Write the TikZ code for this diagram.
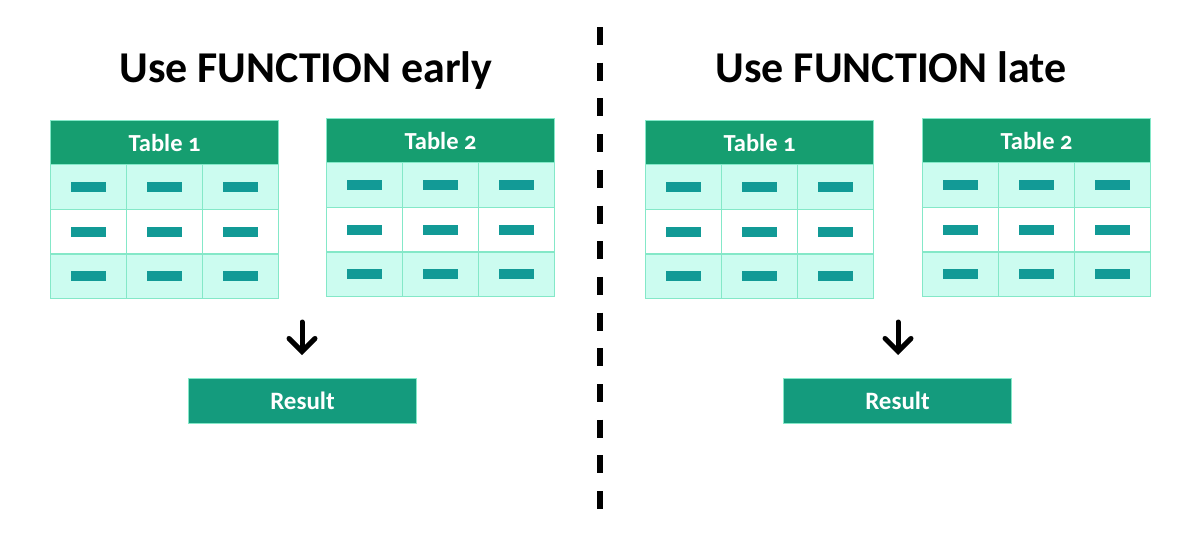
\documentclass[tikz,border=0pt]{standalone}
\usepackage{fontspec}
\setmainfont{Carlito}
\newfontfamily\hdrfont[Numbers=OldStyle]{Carlito}
\usetikzlibrary{arrows.meta}
\definecolor{hdrgreen}{RGB}{22,158,112}
\definecolor{resgreen}{RGB}{20,155,125}
\definecolor{mint}{RGB}{204,252,240}
\definecolor{gridc}{RGB}{132,232,200}
\definecolor{barc}{RGB}{18,154,150}
\tikzset{
  hdrbox/.style={draw=gridc, line width=1.2pt, fill=hdrgreen, text=white, inner sep=0pt,
    minimum width=228pt, minimum height=44pt, font=\hdrfont\fontsize{24.5}{28}\selectfont\bfseries},
  cellbox/.style={draw=gridc, line width=1.2pt, inner sep=0pt, minimum width=76pt, minimum height=44.7pt},
  barbox/.style={fill=barc, inner sep=0pt, minimum width=35pt, minimum height=10pt},
  titletext/.style={font=\fontsize{44}{50}\selectfont\bfseries, inner sep=0pt, anchor=base},
  resbox/.style={draw=gridc, line width=1pt, fill=resgreen, text=white, inner sep=0pt,
    minimum width=228pt, minimum height=45pt, font=\fontsize{25}{28}\selectfont\bfseries},
  downarrow/.style={line width=5pt, line cap=round, -{Straight Barb[length=13pt,width=26pt,line cap=round]}},
  divider/.style={line width=6pt, dash pattern=on 18pt off 17.7pt}
}
\newcommand\mktable[4]{%
  \node[hdrbox, anchor=north west] (#1h) at (#2,#3) {Table #4};
  \foreach \r/\fc in {1/mint,2/white,3/mint}{
    \foreach \c in {1,2,3}{
      \node[cellbox, fill=\fc, anchor=north west] (#1-\r-\c) at ({#2+(\c-1)*76},{#3+44+(\r-1)*44.7}) {};
      \node[barbox] (#1b-\r-\c) at (#1-\r-\c) {};
    }
  }
}
\begin{document}
\begin{tikzpicture}[x=1pt,y=-1pt]
\useasboundingbox (0,0) rectangle (1200,550);
% titles
\node[titletext] (tl) at (306,82) {Use FUNCTION early};
\node[titletext] (tr) at (891,82) {Use FUNCTION late};
% divider
\coordinate (dtop) at (600,27);
\coordinate (dbot) at (600,509);
\draw[divider] (dtop) -- (dbot);
% left side
\mktable{la}{50}{120}{1}
\mktable{lb}{326}{118}{2}
\node[resbox, anchor=north west] (lres) at (188,378) {Result};
\coordinate (las) at (302,322);
\coordinate (lae) at (302,355);
\draw[downarrow] (las) -- (lae);
% right side
\mktable{ra}{645}{120}{1}
\mktable{rb}{922}{118}{2}
\node[resbox, anchor=north west] (rres) at (783,378) {Result};
\coordinate (ras) at (898,322);
\coordinate (rae) at (898,355);
\draw[downarrow] (ras) -- (rae);
\end{tikzpicture}
\end{document}
